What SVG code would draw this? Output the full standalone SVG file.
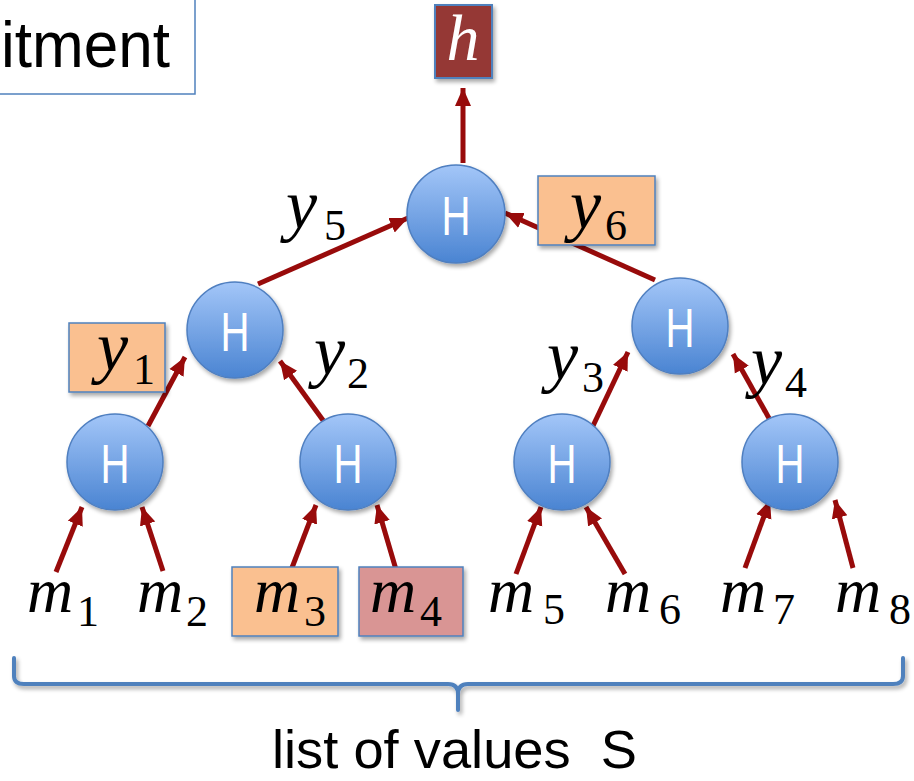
<svg xmlns="http://www.w3.org/2000/svg" width="914" height="781" viewBox="0 0 914 781">
<defs>
<linearGradient id="hg" x1="0" y1="0" x2="0" y2="1">
<stop offset="0" stop-color="#a3c6f8"/>
<stop offset="1" stop-color="#4a84d2"/>
</linearGradient>
<filter id="sh" x="-20%" y="-20%" width="150%" height="150%">
<feGaussianBlur in="SourceAlpha" stdDeviation="2"/>
<feOffset dx="2" dy="3" result="b"/>
<feComponentTransfer><feFuncA type="linear" slope="0.35"/></feComponentTransfer>
<feMerge><feMergeNode/><feMergeNode in="SourceGraphic"/></feMerge>
</filter>
<marker id="ar" markerUnits="userSpaceOnUse" markerWidth="20" markerHeight="20" viewBox="0 0 20 20" refX="18" refY="10" orient="auto">
<path d="M0,2 L18,10 L0,18 Z" fill="#980b0b"/>
</marker>
<marker id="ab" markerUnits="userSpaceOnUse" markerWidth="20" markerHeight="20" viewBox="0 0 20 20" refX="18" refY="10" orient="auto">
<path d="M0,3 L18,10 L0,17 Z" fill="#4f81bd"/>
</marker>
</defs>
<style>
.c{fill:url(#hg);stroke:#4f7fc0;stroke-width:1.5;filter:url(#sh)}
.H{font-family:"Liberation Sans",Arial,sans-serif;font-size:56px;fill:#fff;text-anchor:middle}
.e{stroke:#980b0b;stroke-width:5;fill:none;marker-end:url(#ar)}
.m{font-family:"Liberation Serif","Times New Roman",serif;font-style:italic;font-size:64px;fill:#000}
.y{font-family:"Liberation Serif","Times New Roman",serif;font-style:italic;font-size:70px;fill:#000}
.s{font-family:"Liberation Serif","Times New Roman",serif;font-size:44px;fill:#000}
.ob{fill:#fac090;stroke:#4f81bd;stroke-width:1.5;filter:url(#sh)}
.pb{fill:#d99594;stroke:#4f81bd;stroke-width:1.5;filter:url(#sh)}
</style>
<rect width="914" height="781" fill="#fff"/>

<g id="commitment">
<rect x="-10" y="-10" width="205" height="104" fill="#fff" stroke="#4f81bd" stroke-width="1.5"/>
<text x="1" y="67" font-family="Liberation Sans,Arial,sans-serif" font-size="64" fill="#000" textLength="169" lengthAdjust="spacingAndGlyphs">itment</text>
</g>
<g id="h-node">
<rect x="435" y="5" width="57" height="73" fill="#953735" stroke="#4f81bd" stroke-width="2" filter="url(#sh)"/>
<text x="463" y="60" class="m" style="fill:#fff;font-size:66px" text-anchor="middle">h</text>
</g>

<g id="connectors">
<line x1="207" y1="42" x2="380" y2="42" stroke="#4f81bd" stroke-width="5" marker-end="url(#ab)" filter="url(#sh)"/>
<line class="e" x1="463" y1="163" x2="463" y2="88"/>
<line class="e" x1="258" y1="284" x2="408" y2="218"/>
<line class="e" x1="655" y1="280" x2="505" y2="213"/>
<line class="e" x1="148" y1="426" x2="185" y2="357"/>
<line class="e" x1="325" y1="423" x2="280" y2="361"/>
<line class="e" x1="592" y1="428" x2="628" y2="352"/>
<line class="e" x1="770" y1="420" x2="733" y2="354"/>
<line class="e" x1="56" y1="572" x2="82" y2="507"/>
<line class="e" x1="163" y1="571" x2="142" y2="507"/>
<line class="e" x1="290" y1="573" x2="316" y2="505"/>
<line class="e" x1="397" y1="573" x2="377" y2="505"/>
<line class="e" x1="516" y1="574" x2="541" y2="507"/>
<line class="e" x1="625" y1="574" x2="586" y2="507"/>
<line class="e" x1="745" y1="568" x2="770" y2="500"/>
<line class="e" x1="853" y1="568" x2="835" y2="500"/>
</g>

<g id="n-top"><circle class="c" cx="456" cy="214" r="49"/><text class="H" x="456" y="235" textLength="29" lengthAdjust="spacingAndGlyphs">H</text></g>
<g id="n-l"><circle class="c" cx="235" cy="330" r="48"/><text class="H" x="235" y="351" textLength="29" lengthAdjust="spacingAndGlyphs">H</text></g>
<g id="n-r"><circle class="c" cx="680" cy="326" r="48"/><text class="H" x="680" y="347" textLength="29" lengthAdjust="spacingAndGlyphs">H</text></g>
<g id="n-ll"><circle class="c" cx="115" cy="462" r="48"/><text class="H" x="115" y="483" textLength="29" lengthAdjust="spacingAndGlyphs">H</text></g>
<g id="n-lr"><circle class="c" cx="348" cy="462" r="48"/><text class="H" x="348" y="483" textLength="29" lengthAdjust="spacingAndGlyphs">H</text></g>
<g id="n-rl"><circle class="c" cx="562" cy="462" r="48"/><text class="H" x="562" y="483" textLength="29" lengthAdjust="spacingAndGlyphs">H</text></g>
<g id="n-rr"><circle class="c" cx="790" cy="462" r="48"/><text class="H" x="790" y="483" textLength="29" lengthAdjust="spacingAndGlyphs">H</text></g>

<g id="y5"><text class="y" x="286" y="228">y</text><text class="s" x="324" y="240">5</text></g>
<g id="y6"><rect class="ob" x="538" y="176" width="117" height="69"/><text class="y" x="570" y="228">y</text><text class="s" x="605" y="240">6</text></g>
<g id="y1"><rect class="ob" x="69" y="323" width="96" height="69"/><text class="y" x="97" y="370">y</text><text class="s" x="133" y="384">1</text></g>
<g id="y2"><text class="y" x="314" y="374">y</text><text class="s" x="347" y="388">2</text></g>
<g id="y3"><text class="y" x="547" y="379">y</text><text class="s" x="582" y="392">3</text></g>
<g id="y4"><text class="y" x="751" y="384">y</text><text class="s" x="785" y="397">4</text></g>

<g id="m1"><text class="m" x="27" y="612">m</text><text class="s" x="77" y="626">1</text></g>
<g id="m2"><text class="m" x="137" y="612">m</text><text class="s" x="186" y="626">2</text></g>
<g id="m3"><rect class="ob" x="232" y="567" width="106" height="69"/><text class="m" x="254" y="612">m</text><text class="s" x="304" y="626">3</text></g>
<g id="m4"><rect class="pb" x="359" y="567" width="104" height="69"/><text class="m" x="370" y="612">m</text><text class="s" x="420" y="626">4</text></g>
<g id="m5"><text class="m" x="488" y="612">m</text><text class="s" x="543" y="624">5</text></g>
<g id="m6"><text class="m" x="605" y="612">m</text><text class="s" x="659" y="624">6</text></g>
<g id="m7"><text class="m" x="720" y="612">m</text><text class="s" x="773" y="624">7</text></g>
<g id="m8"><text class="m" x="835" y="612">m</text><text class="s" x="889" y="624">8</text></g>

<g id="bracket">
<path d="M14,658 V676 Q14,684 24,684 H448 Q458,684 458,694 V710 M458,694 Q458,684 468,684 H893 Q903,684 903,676 V658" fill="none" stroke="#4f81bd" stroke-width="4" stroke-linecap="round" filter="url(#sh)"/>
<text x="272" y="768" font-family="Liberation Sans,Arial,sans-serif" font-size="54" fill="#000" textLength="365" lengthAdjust="spacingAndGlyphs" xml:space="preserve">list of values  S</text>
</g>
</svg>
